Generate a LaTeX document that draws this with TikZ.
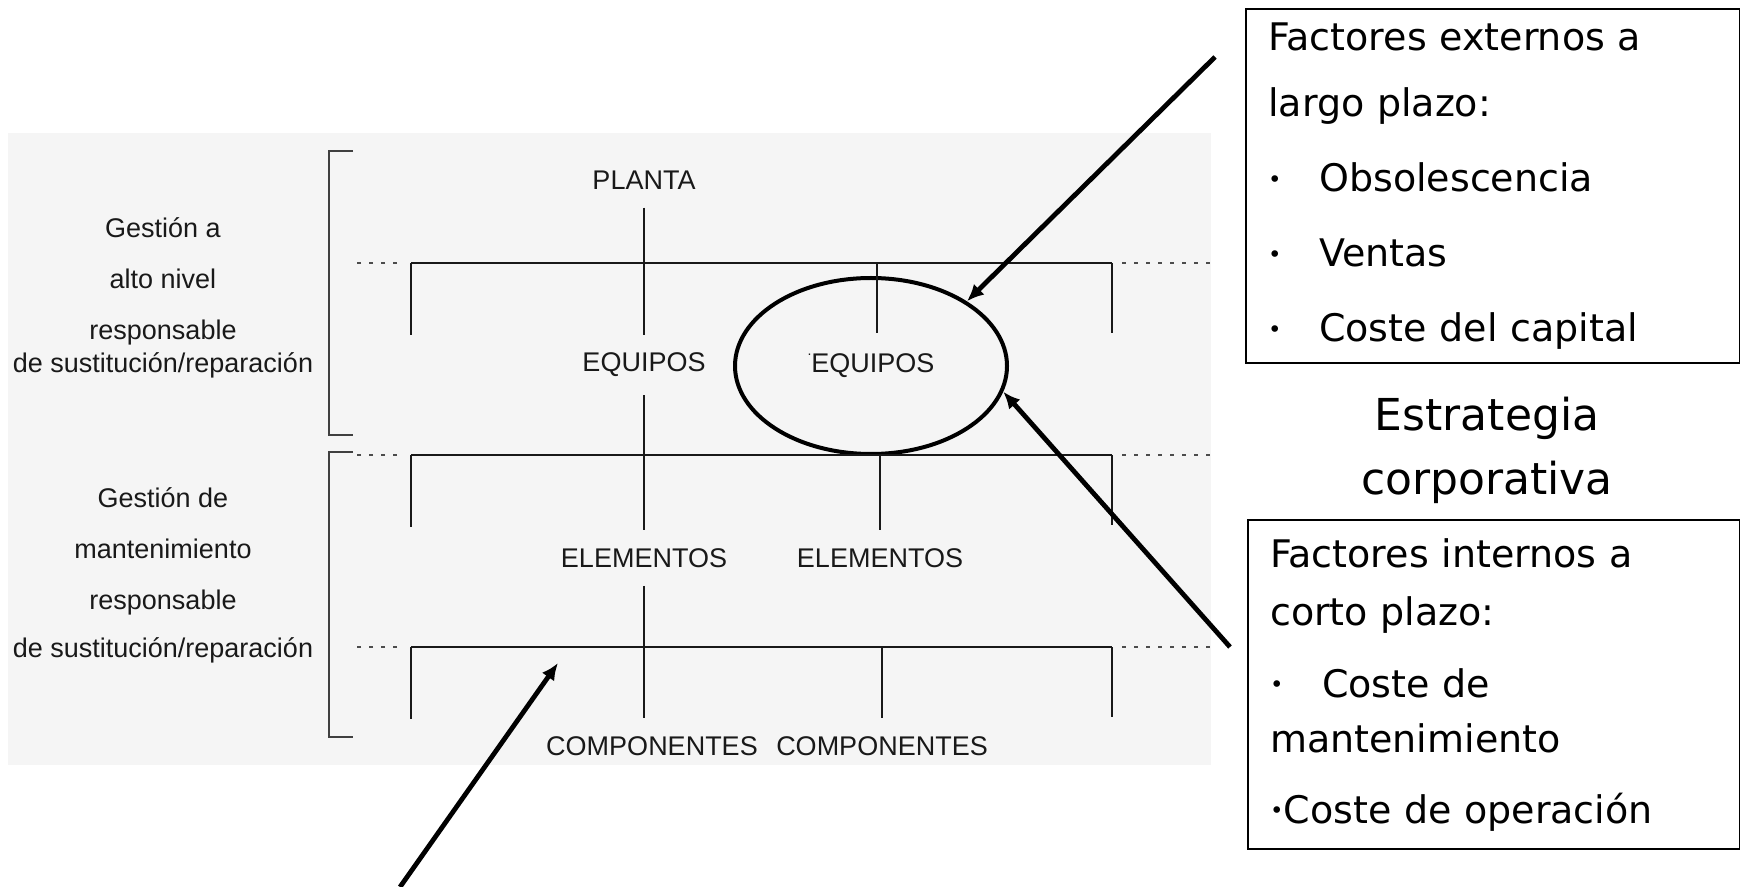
\documentclass[tikz,border=0pt]{standalone}
\usepackage{graphicx}
\usepackage{fontspec}
\setmainfont{Liberation Sans}
\newfontfamily\boxfont{DejaVu Sans}
\usetikzlibrary{arrows.meta,shapes.geometric}
\newcommand{\smallbul}{\raisebox{0.12em}{\scalebox{0.6}{•}}}
\tikzset{
  lbl/.style={font=\fontsize{13.5}{16}\selectfont, text=black!90, inner xsep=2pt, inner ysep=9pt},
  sidetxt/.style={font=\fontsize{13.5}{25.5}\selectfont, text=black!90, align=center},
  treeline/.style={line width=1.2pt, black!90},
  dotline/.style={line width=1.3pt, black!70, dash pattern=on 2pt off 4pt},
  brk/.style={line width=0.8pt, black!75},
  factbox/.style={draw, line width=1.2pt, anchor=north west, align=left, inner xsep=11pt,
    font=\boxfont\fontsize{19}{31}\selectfont},
  callout/.style={->, line width=2.4pt}
}
\begin{document}
\begin{tikzpicture}[x=0.5pt, y=-0.5pt, >={Latex[length=8.5pt,width=7.5pt]}]
\useasboundingbox (0,0) rectangle (1740,887);
\fill[black!4] (8,133) rectangle (1211,765);

% brackets and side texts
\draw[brk] (353,151) -| (329,435) -- (353,435);
\draw[brk] (353,452) -| (329,737) -- (353,737);
\node[sidetxt] (altaG) at (163,298) {Gestión a\\alto nivel\\responsable\\[-9pt]de sustitución/reparación};
\node[sidetxt] (mantG) at (163,575) {Gestión de\\mantenimiento\\responsable\\[-1.5pt]de sustitución/reparación};

% tree
\node[lbl] (planta) at (644,180) {PLANTA};
\node[lbl] (eqA) at (644,365) {EQUIPOS};
\node[lbl, ellipse, draw=black, line width=2pt, minimum width=136pt, minimum height=88pt] (eqB) at (871,366) {\raisebox{1.2ex}{\scriptsize .}EQUIPOS};
\node[lbl] (elA) at (644,558) {ELEMENTOS};
\node[lbl] (elB) at (880,558) {ELEMENTOS};
\node[lbl] (coA) at (652,746) {COMPONENTES};
\node[lbl] (coB) at (882,746) {COMPONENTES};

\foreach \n/\y in {1/263,2/455,3/647} {
  \coordinate (w\n) at (411,\y);
  \coordinate (e\n) at (1112,\y);
  \draw[treeline] (w\n) -- (e\n);
  \draw[dotline] (w\n) ++(-14,0) -- ++(-42,0);
  \draw[dotline] (e\n) ++(10,0) -- ++(88,0);
  \draw[treeline] (w\n) -- ++(0,72);
  \draw[treeline] (e\n) -- ++(0,70);
}
\draw[treeline] (w1 -| 877,0) -- ++(0,70);
\draw[treeline] (w2 -| elB) -- (elB);
\draw[treeline] (w3 -| coB) -- (coB);
\draw[treeline] (planta) -- (eqA);
\draw[treeline] (eqA) -- (elA);
\draw[treeline] (elA) -- (elA |- coA.north);

% factor boxes
\node[factbox, text width=225pt, minimum height=177pt] (extF) at (1245,8) {Factores externos a\\[2pt]
largo plazo:\\[6.5pt]
\makebox[25.5pt][l]{\smallbul}Obsolescencia\\[6.5pt]
\makebox[25.5pt][l]{\smallbul}Ventas\\[6.5pt]
\makebox[25.5pt][l]{\smallbul}Coste del capital};
\node[font=\boxfont\fontsize{22}{32}\selectfont, align=center] (strat) at (1487,450) {Estrategia\\corporativa};
\node[factbox, text width=224pt, minimum height=164.5pt] (intF) at (1247,519) {Factores internos a\\[-2pt]
corto plazo:\\[5pt]
\makebox[26pt][l]{\smallbul}Coste de\\[-3.5pt]
mantenimiento\\[4.5pt]
\smallbul Coste de operación};

% arrows
\coordinate (extT) at (1215,57);
\coordinate (intT) at (1230,647);
\coordinate (lowT) at (400,887);
\coordinate (lowH) at (558,663);
\draw[callout] (extT) -- (eqB.34);
\draw[callout] (intT) -- (eqB.-11);
\draw[callout] (lowT) -- (lowH);
\end{tikzpicture}
\end{document}
